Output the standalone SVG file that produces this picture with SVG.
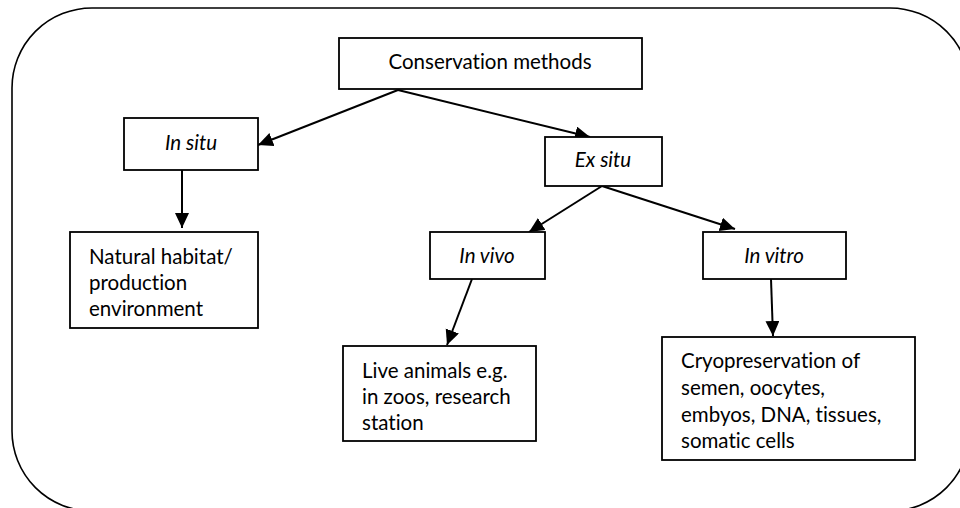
<svg xmlns="http://www.w3.org/2000/svg" width="960" height="508" viewBox="0 0 960 508">
<style>
.box{fill:#fff;stroke:#000;stroke-width:1.8}
.t{font-family:Lato,"Open Sans","Liberation Sans",sans-serif;font-size:20.5px;fill:#000;font-variant-ligatures:none}
.i{font-style:italic}
.c{stroke:#000;stroke-width:2;fill:none;marker-end:url(#ah)}
</style>
<defs>
<marker id="ah" markerUnits="userSpaceOnUse" markerWidth="16" markerHeight="16" refX="15" refY="7" orient="auto">
<path d="M0,0 L15,7 L0,14 z" fill="#000"/>
</marker>
</defs>
<rect x="12" y="8" width="958" height="503" rx="80" ry="80" fill="#fff" stroke="#000" stroke-width="1.6"/>
<g id="connectors">
<line class="c" x1="398" y1="90" x2="258" y2="145"/>
<line class="c" x1="398" y1="90" x2="590" y2="137"/>
<line class="c" x1="182" y1="170" x2="182" y2="228"/>
<line class="c" x1="602" y1="186" x2="529" y2="232"/>
<line class="c" x1="602" y1="186" x2="735" y2="229"/>
<line class="c" x1="472" y1="279" x2="447" y2="345"/>
<line class="c" x1="771" y1="279" x2="773" y2="336"/>
</g>
<g id="conservation">
<rect class="box" x="339" y="38" width="303" height="51"/>
<text class="t" x="490" y="69" text-anchor="middle">Conservation methods</text>
</g>
<g id="insitu">
<rect class="box" x="124" y="118" width="134" height="52"/>
<text class="t i" x="191" y="150" text-anchor="middle">In situ</text>
</g>
<g id="natural">
<rect class="box" x="70" y="232" width="188" height="96"/>
<text class="t" x="89" y="264">Natural habitat/</text>
<text class="t" x="89" y="290">production</text>
<text class="t" x="89" y="316">environment</text>
</g>
<g id="exsitu">
<rect class="box" x="545" y="137" width="117" height="49"/>
<text class="t i" x="603" y="167" text-anchor="middle">Ex situ</text>
</g>
<g id="invivo">
<rect class="box" x="430" y="232" width="115" height="47"/>
<text class="t i" x="487" y="263" text-anchor="middle">In vivo</text>
</g>
<g id="invitro">
<rect class="box" x="703" y="232" width="143" height="47"/>
<text class="t i" x="774" y="263" text-anchor="middle">In vitro</text>
</g>
<g id="live">
<rect class="box" x="343" y="346" width="193" height="95"/>
<text class="t" x="362" y="378">Live animals e.g.</text>
<text class="t" x="362" y="404">in zoos, research</text>
<text class="t" x="362" y="430">station</text>
</g>
<g id="cryo">
<rect class="box" x="662" y="337" width="253" height="123"/>
<text class="t" x="681" y="368">Cryopreservation of</text>
<text class="t" x="681" y="395">semen, oocytes,</text>
<text class="t" x="681" y="422">embyos, DNA, tissues,</text>
<text class="t" x="681" y="448">somatic cells</text>
</g>
</svg>
